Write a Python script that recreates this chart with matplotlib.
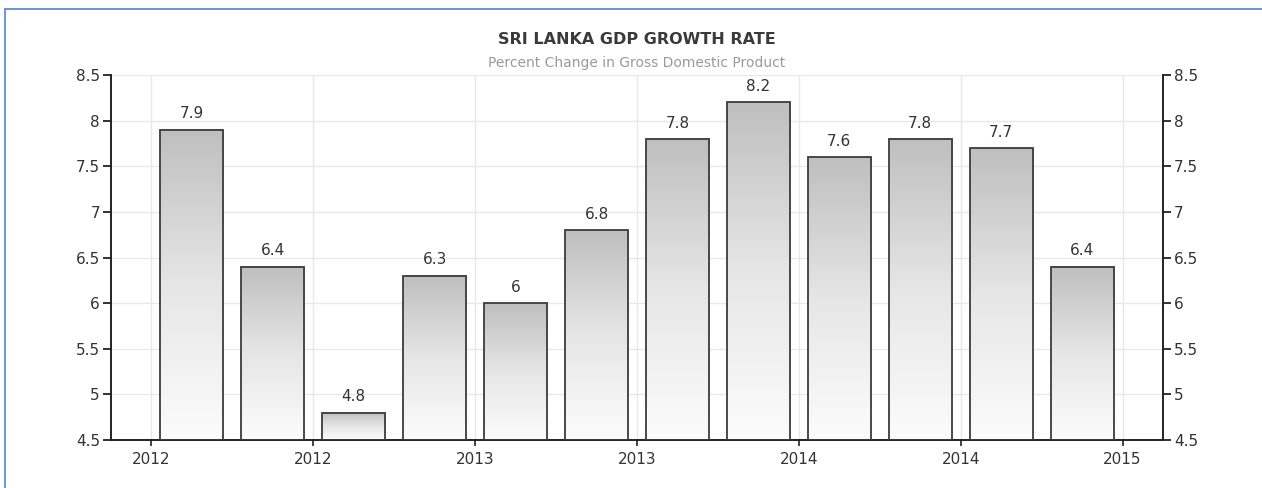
import matplotlib
matplotlib.use('Agg')
import matplotlib.pyplot as plt
import numpy as np
from matplotlib.patches import Rectangle
from matplotlib.colors import LinearSegmentedColormap

# ---- data ----
quarters = ['2012Q1', '2012Q2', '2012Q3', '2012Q4', '2013Q1', '2013Q2',
            '2013Q3', '2013Q4', '2014Q1', '2014Q2', '2014Q3', '2014Q4']
growth = [7.9, 6.4, 4.8, 6.3, 6.0, 6.8, 7.8, 8.2, 7.6, 7.8, 7.7, 6.4]
value_labels = ['7.9', '6.4', '4.8', '6.3', '6', '6.8', '7.8', '8.2', '7.6', '7.8', '7.7', '6.4']
x_tick_labels = ['2012', '2012', '2013', '2013', '2014', '2014', '2015']
y_ticks = [4.5, 5, 5.5, 6, 6.5, 7, 7.5, 8, 8.5]
y_tick_labels = ['4.5', '5', '5.5', '6', '6.5', '7', '7.5', '8', '8.5']
title = 'SRI LANKA GDP GROWTH RATE'
subtitle = 'Percent Change in Gross Domestic Product'

plt.rcParams['font.family'] = ['DejaVu Sans']

fig = plt.figure(figsize=(12.62, 4.88), dpi=100)
ax = fig.add_axes([111 / 1262, 1 - 440 / 488, (1163 - 111) / 1262, (440 - 75) / 488])

ymin, ymax = y_ticks[0], y_ticks[-1]
x = np.arange(len(growth))
width = 0.78

cmap = LinearSegmentedColormap.from_list('g', ['#fcfcfc', '#e6e6e6', '#bfbfbf'])
grad = np.linspace(0, 1, 256).reshape(-1, 1)
for xi, v in zip(x, growth):
    ax.imshow(grad, extent=[xi - width / 2, xi + width / 2, ymin, v], origin='lower',
              aspect='auto', cmap=cmap, zorder=2, interpolation='bilinear')
bars = ax.bar(x, np.array(growth) - ymin, bottom=ymin, width=width, facecolor='none',
              edgecolor='#3c3c3c', linewidth=1.3, zorder=3)

for xi, v, lab in zip(x, growth, value_labels):
    ax.annotate(lab, (xi, v), xytext=(0, 6), textcoords='offset points',
                ha='center', va='bottom', fontsize=11, color='#333333')

ax.set_xlim(-1, len(growth))
ax.set_ylim(ymin, ymax)

tick_pos = np.arange(len(x_tick_labels)) * 2 - 0.5
ax.set_xticks(tick_pos)
ax.set_xticklabels(x_tick_labels)
ax.set_yticks(y_ticks)
ax.set_yticklabels(y_tick_labels)

ax.grid(True, color='#e8e8e8', linewidth=1.0, zorder=0)
ax.set_axisbelow(True)

for s in ['left', 'right', 'bottom']:
    ax.spines[s].set_color('#222222')
    ax.spines[s].set_linewidth(1.4)
ax.spines['top'].set_visible(False)

ax.tick_params(axis='y', which='both', left=True, right=True, labelleft=True, labelright=True,
               direction='out', length=6, width=1.3, color='#222222',
               labelsize=11, labelcolor='#333333', pad=2)
ax.tick_params(axis='x', direction='out', length=4, width=1.2, color='#222222',
               labelsize=11, labelcolor='#333333', pad=5)

fig.text(637 / 1262, 1 - 40 / 488, title, ha='center', va='center',
         fontsize=11.5, fontweight='bold', color='#3a3a3a')
fig.text(637 / 1262, 1 - 63 / 488, subtitle, ha='center', va='center',
         fontsize=10, color='#9a9a9a')

# blue frame
fig.add_artist(Rectangle((5 / 1262, -0.1), 1.2, 1 - 8.5 / 488 + 0.1,
                         transform=fig.transFigure, fill=False,
                         edgecolor='#5b8ed8', linewidth=1.3))

fig.savefig('out.png', dpi=100)
